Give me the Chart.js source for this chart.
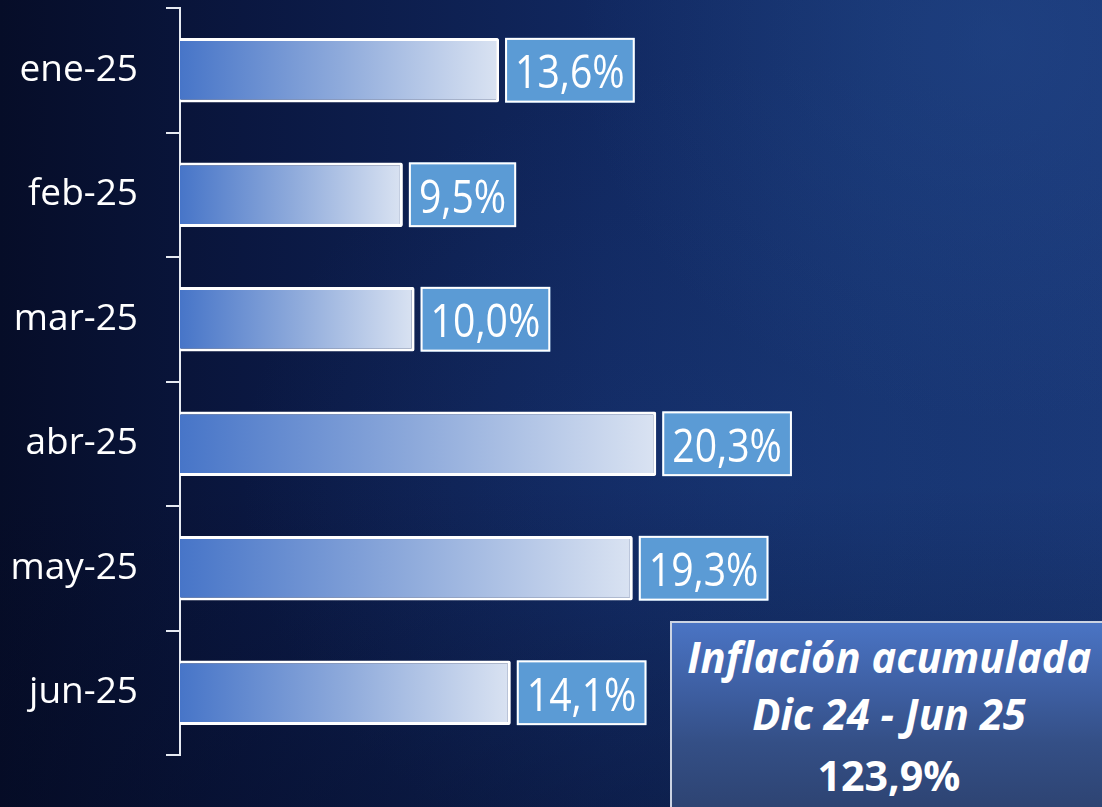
<!DOCTYPE html>
<html lang="es">
<head>
<meta charset="utf-8">
<title>Inflación mensual 2025</title>
<script src="https://cdn.jsdelivr.net/npm/chart.js@4.4.1/dist/chart.umd.min.js"></script>
<style>
  html, body { margin: 0; padding: 0; }
  body {
    width: 1102px; height: 807px; overflow: hidden; position: relative;
    background:
      linear-gradient(180deg, rgba(4,10,34,0) 60%, rgba(4,10,34,0.35) 100%),
      radial-gradient(ellipse 420px 380px at 1000px 40px, rgba(40,80,150,0.35), rgba(40,80,150,0) 100%),
      radial-gradient(ellipse 520px 420px at 760px 480px, rgba(30,64,130,0.3), rgba(30,64,130,0) 100%),
      linear-gradient(90deg, #060d28 0%, #0a1740 22%, #112860 55%, #16336f 80%, #1a3877 100%);
  }
  #wrap { position: absolute; left: 0; top: 0; width: 1102px; height: 807px; }
  #acum {
    position: absolute; left: 670px; top: 621px; width: 434px; height: 200px;
    border: 2px solid #ccd4e3;
    background: linear-gradient(180deg, #4a74c4 0%, #3f61a6 30%, #344f86 60%, #2c416e 100%);
    color: #ffffff; text-align: center;
    font-family: "Open Sans", sans-serif; font-weight: 700;
  }
  #acum .ln { position: absolute; left: 0; width: 100%; white-space: nowrap; }
  #acum .ln span { display: inline-block; transform-origin: center; }
  #acum .it { font-style: italic; font-size: 43px; line-height: 58px; }
  #acum .it span { transform: scaleX(0.97); }
  #acum .nb { font-size: 42px; line-height: 56px; }
  #acum .nb span { transform: scaleX(0.98); }
</style>
</head>
<body>
<div id="wrap"><canvas id="chart" width="1102" height="807"></canvas></div>
<div id="acum">
  <div class="ln it" style="top:5px"><span id="acumTitle"></span></div>
  <div class="ln it" style="top:62px"><span id="acumPeriod"></span></div>
  <div class="ln nb" style="top:124px"><span id="acumValue"></span></div>
</div>
<script>
// Monthly inflation, 2025
const months = ['ene-25', 'feb-25', 'mar-25', 'abr-25', 'may-25', 'jun-25'];
const monthlyRate = [13.6, 9.5, 10.0, 20.3, 19.3, 14.1];

// Accumulated inflation summary
const summaryTitle = 'Inflación acumulada';
const summaryPeriod = 'Dic 24 - Jun 25';
const summaryRate = 123.9;

const fmtPct = v => v.toFixed(1).replace('.', ',') + '%';

document.getElementById('acumTitle').textContent = summaryTitle;
document.getElementById('acumPeriod').textContent = summaryPeriod;
document.getElementById('acumValue').textContent = fmtPct(summaryRate);

// Horizontal gradient that runs from the bar's base to its end
function barGradient(ctx) {
  const chart = ctx.chart;
  if (!chart.chartArea || ctx.raw == null) return '#4a78c8';
  const xs = chart.scales.x;
  const g = chart.ctx.createLinearGradient(xs.getPixelForValue(0), 0, xs.getPixelForValue(ctx.raw), 0);
  g.addColorStop(0, '#4775c8');
  g.addColorStop(0.5, '#8eaadb');
  g.addColorStop(1, '#dae3f2');
  return g;
}

// Boxed value label next to each bar
const valueBoxes = {
  id: 'valueBoxes',
  afterDatasetsDraw(chart) {
    const ctx = chart.ctx;
    const meta = chart.getDatasetMeta(0);
    const SX = 0.87, PADX = 10, GAP = 6;
    ctx.save();
    ctx.font = '45px "Open Sans"';
    meta.data.forEach((bar, i) => {
      const txt = fmtPct(monthlyRate[i]);
      const w = ctx.measureText(txt).width * SX + PADX * 2;
      const h = bar.height;
      const x0 = bar.x + GAP;
      const y0 = bar.y - h / 2;
      ctx.fillStyle = '#5b9bd5';
      ctx.fillRect(x0, y0, w, h);
      ctx.strokeStyle = '#ffffff';
      ctx.lineWidth = 2;
      ctx.strokeRect(x0 + 1, y0 + 1, w - 2, h - 2);
      ctx.save();
      ctx.translate(x0 + w / 2, bar.y + 18);
      ctx.scale(SX, 1);
      ctx.fillStyle = '#ffffff';
      ctx.textAlign = 'center';
      ctx.textBaseline = 'alphabetic';
      ctx.fillText(txt, 0, 0);
      ctx.restore();
    });
    ctx.restore();
  }
};

new Chart(document.getElementById('chart'), {
  type: 'bar',
  data: {
    labels: months,
    datasets: [{
      data: monthlyRate,
      backgroundColor: barGradient,
      borderColor: '#ffffff',
      borderWidth: 3,
      borderRadius: 2,
      barPercentage: 0.52,
      categoryPercentage: 1.0
    }]
  },
  options: {
    indexAxis: 'y',
    responsive: false,
    animation: false,
    events: [],
    layout: { padding: { top: 8, bottom: 52, left: 0, right: 7 } },
    plugins: { legend: { display: false }, tooltip: { enabled: false } },
    scales: {
      x: { display: false, min: 0, max: 39 },
      y: {
        afterFit(scale) {
          scale.width = 180;
          scale.paddingTop = 0;
          scale.paddingBottom = 0;
        },
        border: { display: true, color: '#e6eaf2', width: 2 },
        grid: { display: true, drawOnChartArea: false, offset: true, tickLength: 14, color: '#e6eaf2', lineWidth: 2 },
        ticks: { color: '#ffffff', padding: 28, font: { family: '"Open Sans"', size: 37 } }
      }
    }
  },
  plugins: [valueBoxes]
});
</script>
</body>
</html>
